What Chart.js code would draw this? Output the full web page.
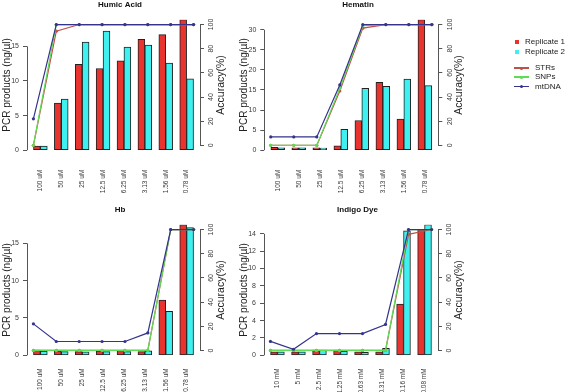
<!DOCTYPE html>
<html>
<head>
<meta charset="utf-8">
<script src="https://cdn.jsdelivr.net/npm/chart.js@4.4.1/dist/chart.umd.min.js"></script>
<style>
  body { margin: 0; background: #fff; }
  #wrap { position: relative; width: 568px; height: 392px; overflow: hidden; background: #fff;
          font-family: "Liberation Sans", Arial, sans-serif; }
  .panel { position: absolute; }
  .lg-sq { position: absolute; width: 4px; height: 4px; }
  .lg-ln { position: absolute; width: 15px; height: 1.3px; }
  .lg-dot { position: absolute; width: 3px; height: 3px; border-radius: 50%; }
  .lg-tx { position: absolute; font-size: 8px; line-height: 8px; color: #222; white-space: nowrap; }
</style>
</head>
<body>
<div id="wrap">
  <canvas id="p1" class="panel"></canvas>
  <canvas id="p2" class="panel"></canvas>
  <canvas id="p3" class="panel"></canvas>
  <canvas id="p4" class="panel"></canvas>
</div>
<script>
// ---- data ----
const catsUM = ["100 uM", "50 uM", "25 uM", "12.5 uM", "6.25 uM", "3.13 uM", "1.56 uM", "0.78 uM"];
const catsMM = ["10 mM", "5 mM", "2.5 mM", "1.25 mM", "0.63 mM", "0.31 mM", "0.16 mM", "0.08 mM"];

// PCR products (ng/µl)
const humicRep1 = [0.6, 6.8, 12.4, 11.8, 12.9, 16.0, 16.7, 18.85];
const humicRep2 = [0.6, 7.4, 15.6, 17.2, 14.9, 15.2, 12.6, 10.3];
const hematinRep1 = [0.7, 0.6, 0.6, 1.1, 7.4, 16.9, 7.75, 32.5];
const hematinRep2 = [0.6, 0.6, 0.5, 5.2, 15.4, 15.9, 17.7, 16.1];
const hbRep1 = [0.7, 0.6, 0.5, 0.6, 0.65, 0.5, 7.4, 17.5];
const hbRep2 = [0.55, 0.5, 0.45, 0.5, 0.5, 0.6, 5.9, 17.1];
const indigoRep1 = [0.4, 0.4, 0.6, 0.6, 0.4, 0.4, 5.9, 14.5];
const indigoRep2 = [0.4, 0.4, 0.6, 0.5, 0.35, 0.8, 14.35, 15.05];

// Accuracy (%)
const humicSTR = [0, 94.5, 100, 100, 100, 100, 100, 100];
const humicSNP = [0, 100, 100, 100, 100, 100, 100, 100];
const humicMT = [22, 100, 100, 100, 100, 100, 100, 100];
const hematinSTR = [0, 0, 0, 45, 97, 100, 100, 100];
const hematinSNP = [0, 0, 0, 47, 99, 100, 100, 100];
const hematinMT = [7, 7, 7, 50, 100, 100, 100, 100];
const hbSTR = [0, 0, 0, 0, 0, 0, 100, 100];
const hbSNP = [0, 0, 0, 0, 0, 0, 100, 100];
const hbMT = [22, 7.4, 7.4, 7.4, 7.4, 14.5, 100, 100];
const indigoSTR = [0, 0, 0, 0, 0, 0, 96, 100];
const indigoSNP = [0, 0, 0, 0, 0, 0, 100, 100];
const indigoMT = [7.5, 1, 14, 14, 14, 21.5, 100, 100];

// tick steps of the left axes, right axis ticks
const leftSteps = [5, 5, 5, 2];
const accStep = 20;

const titles = ["Humic Acid", "Hematin", "Hb", "Indigo Dye"];
const leftTitle = "PCR products (ng/\u00b5l)";
const rightTitle = "Accuracy(%)";

// ---- styles ----
const FONT = '"Liberation Sans", Arial, sans-serif';
const REP1 = "#e8332f";
const REP2 = "#3ff0f0";
const STR_C = "#c0504a";
const SNP_C = "#5fdc55";
const MT_C = "#34348f";
const AXIS_C = "#555";
const TICK_C = "#3a3a3a";
Chart.defaults.font.family = FONT;

// panel boxes on the page
const geom = [
  { left: 0,   top: 0,   lw: 27,   pw: 173, padT: 0.2, padB: 9.9, xh: 45.8, xpad: 11.5 },
  { left: 237, top: 0,   lw: 27.3, pw: 174, padT: 0.2, padB: 9.9, xh: 45.8, xpad: 11.5 },
  { left: 0,   top: 196, lw: 27,   pw: 173, padT: 9.2, padB: 9.9, xh: 36.7, xpad: 5 },
  { left: 237, top: 196, lw: 27,   pw: 174, padT: 9.2, padB: 9.9, xh: 36.7, xpad: 5 }
];
const RW = 40; // room for the right axis

// R barplot units: group i spans [1+3i, 3+3i]; plot range padded 4%
const groupAt = (i) => 2 + 3 * i;

// R style: axis line only between first and last tick, rotated right labels
const rAxes = {
  id: "rAxes",
  afterDraw(chart) {
    const { ctx, chartArea } = chart;
    const yl = chart.scales.y, yr = chart.scales.y2;
    const al = (p) => Math.round(p - 0.5) + 0.5;
    ctx.save();
    ctx.strokeStyle = AXIS_C;
    ctx.lineWidth = 1;
    [[yl, chartArea.left], [yr, chartArea.right]].forEach(([s, x]) => {
      const t = s.ticks;
      ctx.beginPath();
      ctx.moveTo(al(x), s.getPixelForValue(t[0].value));
      ctx.lineTo(al(x), s.getPixelForValue(t[t.length - 1].value));
      ctx.stroke();
    });
    ctx.fillStyle = TICK_C;
    ctx.font = "7px " + FONT;
    ctx.textAlign = "center";
    ctx.textBaseline = "middle";
    yr.ticks.forEach((t) => {
      ctx.save();
      ctx.translate(chartArea.right + 11.5, yr.getPixelForValue(t.value));
      ctx.rotate(-Math.PI / 2);
      ctx.fillText(String(t.value), 0, 0);
      ctx.restore();
    });
    ctx.fillStyle = "#222";
    ctx.font = "10.5px " + FONT;
    ctx.save();
    ctx.translate(chartArea.right + 21, (chartArea.top + chartArea.bottom) / 2);
    ctx.rotate(-Math.PI / 2);
    ctx.fillText(rightTitle, 0, 0);
    ctx.restore();
    ctx.restore();
  }
};

function lineSet(label, vals, color, order) {
  return {
    type: "line", label, order,
    data: vals.map((v, i) => ({ x: i + 1, y: v })),
    xAxisID: "xl", yAxisID: "y2",
    borderColor: color, backgroundColor: color,
    borderWidth: 1.2, pointRadius: 1.6, pointBorderWidth: 0,
    tension: 0
  };
}

function barSet(label, vals, color, order) {
  return {
    type: "bar", label, order,
    data: vals.map((v, i) => ({ x: groupAt(i), y: v })),
    xAxisID: "x", yAxisID: "y",
    backgroundColor: color, borderColor: "#222", borderWidth: 1, borderSkipped: false,
    barThickness: 6.9
  };
}

function makePanel(idx, cats, rep1, rep2, str, snp, mt) {
  const g = geom[idx];
  const cv = document.getElementById("p" + (idx + 1));
  const w = Math.ceil(g.lw + g.pw + RW);
  cv.width = w; cv.height = 196;
  cv.style.left = g.left + "px"; cv.style.top = g.top + "px";
  cv.style.width = w + "px"; cv.style.height = "196px";

  new Chart(cv, {
    type: "bar",
    data: {
      datasets: [
        lineSet("mtDNA", mt, MT_C, 0),
        lineSet("SNPs", snp, SNP_C, 1),
        lineSet("STRs", str, STR_C, 2),
        barSet("Replicate 1", rep1, REP1, 3),
        barSet("Replicate 2", rep2, REP2, 4)
      ]
    },
    options: {
      responsive: false, animation: false,
      layout: { padding: 0 },
      plugins: {
        legend: { display: false },
        tooltip: { enabled: false },
        title: {
          display: true, text: titles[idx], color: "#111",
          font: { size: 8, weight: "bold" },
          padding: { top: g.padT, bottom: g.padB }
        }
      },
      scales: {
        x: {
          type: "linear", offset: false, min: 0.08, max: 24.92,
          grid: { display: false, offset: false }, border: { display: false },
          afterBuildTicks: (s) => { s.ticks = cats.map((c, i) => ({ value: groupAt(i) })); },
          ticks: { autoSkip: false, minRotation: 90, maxRotation: 90, padding: g.xpad,
                   color: TICK_C, font: { size: 6.5 },
                   callback: (v) => cats[Math.round((v - 2) / 3)] },
          afterFit: (s) => { s.height = g.xh; }
        },
        // R draws the accuracy lines on their own x range (0.72 .. 8.28)
        xl: { type: "linear", display: false, offset: false, grid: { offset: false },
              min: 0.72, max: 8.28 },
        y: {
          position: "left", min: 0, max: Math.max(...rep1, ...rep2),
          border: { display: false },
          grid: { drawOnChartArea: false, tickLength: 4, color: AXIS_C },
          ticks: { stepSize: leftSteps[idx], includeBounds: false, padding: 4,
                   color: TICK_C, font: { size: 7 } },
          title: { display: true, text: leftTitle, color: "#222", font: { size: 10 },
                   padding: { top: 1, bottom: 0 } },
          afterFit: (s) => { s.width = g.lw; }
        },
        y2: {
          position: "right", min: -4, max: 104,
          border: { display: false },
          grid: { drawOnChartArea: false, tickLength: 4, color: AXIS_C },
          ticks: { stepSize: accStep, includeBounds: false, display: false },
          afterFit: (s) => { s.width = w - g.lw - g.pw; }
        }
      }
    },
    plugins: [rAxes]
  });
}

makePanel(0, catsUM, humicRep1, humicRep2, humicSTR, humicSNP, humicMT);
makePanel(1, catsUM, hematinRep1, hematinRep2, hematinSTR, hematinSNP, hematinMT);
makePanel(2, catsUM, hbRep1, hbRep2, hbSTR, hbSNP, hbMT);
makePanel(3, catsMM, indigoRep1, indigoRep2, indigoSTR, indigoSNP, indigoMT);

// ---- legend (right of Hematin) ----
const legendBoxes = [["Replicate 1", REP1, 42], ["Replicate 2", REP2, 52]];
const legendLines = [["STRs", STR_C, 68], ["SNPs", SNP_C, 77], ["mtDNA", MT_C, 86.5]];
const wrap = document.getElementById("wrap");
function add(cls, css, text) {
  const d = document.createElement("div");
  d.className = cls;
  Object.assign(d.style, css);
  if (text) d.textContent = text;
  wrap.appendChild(d);
}
legendBoxes.forEach(([name, col, y]) => {
  add("lg-sq", { left: "515px", top: (y - 2) + "px", background: col });
  add("lg-tx", { left: "525px", top: (y - 4) + "px" }, name);
});
legendLines.forEach(([name, col, y]) => {
  add("lg-ln", { left: "514px", top: (y - 0.6) + "px", background: col });
  add("lg-dot", { left: "520px", top: (y - 1.5) + "px", background: col });
  add("lg-tx", { left: "535px", top: (y - 4) + "px" }, name);
});
</script>
</body>
</html>
